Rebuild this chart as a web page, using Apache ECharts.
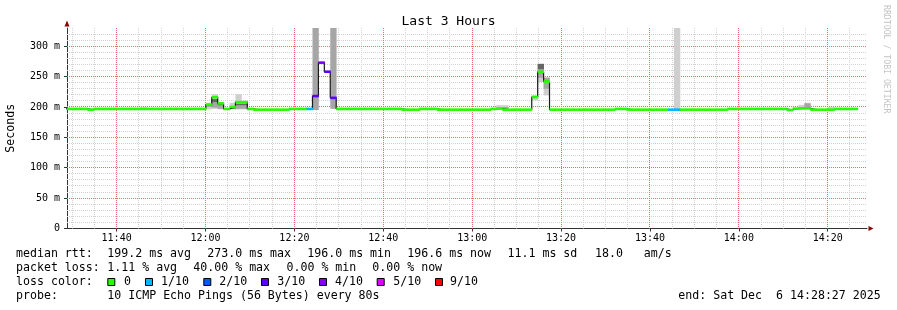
<!DOCTYPE html>
<html>
<head>
<meta charset="utf-8">
<script src="https://cdn.jsdelivr.net/npm/echarts@6/dist/echarts.min.js"></script>
<style>
html,body{margin:0;padding:0;background:#fff;}
#chart{width:897px;height:310px;}
</style>
</head>
<body>
<div id="chart"></div>
<script>
// ---------------- DATA ----------------
const axisStart = '11:28:50';
const axisEnd = '14:28:50';
const firstStepEnd = '11:29:24';
const stepSeconds = 80;

const xTickLabels = ['11:40','12:00','12:20','12:40','13:00','13:20','13:40','14:00','14:20'];

// median rtt per 80 s step (ms)
const median = [
  196.8,196.8,196.8,196.8,195.6,196.8,196.8,196.8,196.8,196.8,
  196.8,196.8,196.8,196.8,196.8,196.8,196.8,196.8,196.8,196.8,
  196.8,196.8,196.8,196.8,204,216,206,196.8,200,208,
  208,196.8,195.6,195.6,195.6,195.6,195.6,195.6,196.8,196.8,
  196.8,196.8,218,273,258,215,196.8,196.8,196.8,196.8,
  196.8,196.8,196.8,196.8,196.8,196.8,196.8,195.6,195.6,195.6,
  196.8,196.8,196.8,195.6,195.6,195.6,195.6,195.6,195.6,195.6,
  195.6,195.6,196.8,197.5,195.6,195.6,195.6,195.6,195.6,216.5,
  258,242,195.6,195.6,195.6,195.6,195.6,195.6,195.6,195.6,
  195.6,195.6,195.6,196.8,196.8,195.6,195.6,195.6,195.6,195.6,
  195.6,195.6,195.6,195.6,195.6,195.6,195.6,195.6,195.6,195.6,
  195.6,195.6,196.8,196.8,196.8,196.8,196.8,196.8,196.8,196.8,
  196.8,196.8,195.0,197.3,197.8,197.8,195.6,195.6,195.6,195.6,
  196.8,196.8,196.8,196.8
];

// lost pings (out of 10) per step
const loss = [
  0,0,0,0,0,0,0,0,0,0,
  0,0,0,0,0,0,0,0,0,0,
  0,0,0,0,0,0,0,0,0,0,
  0,0,0,0,0,0,0,0,0,0,
  0,1,3,4,3,3,0,0,0,0,
  0,0,0,0,0,0,0,0,0,0,
  0,0,0,0,0,0,0,0,0,0,
  0,0,0,0,0,0,0,0,0,0,
  0,0,0,0,0,0,0,0,0,0,
  0,0,0,0,0,0,0,0,0,0,
  0,0,1,1,0,0,0,0,0,0,
  0,0,0,0,0,0,0,0,0,0,
  0,0,0,0,0,0,0,0,0,0,
  0,0,0,0
];

// smoke bands: [step, low ms, high ms]
const smokeOuter = [
  [13,196,199.5],[24,196,207],[25,197,221],[26,196,208],[28,196,207],[29,196,221],[30,196,210],
  [73,197,203],[74,197,203],[79,211,219],[80,241,271],[81,219,249],[103,196,345],
  [124,196,203.5],[125,196,207],[129,196,200]
];
const smokeMiddle = [
  [25,199,211],[26,197,204],[29,197,206],[30,197,206],[42,195,345],[45,197,345],
  [74,196,200],[80,248,262],[81,230,248],[125,198,206]
];
const smokeInner = [
  [24,201,203],[25,208,213],[26,203,205],[28,197,199],[29,203,205],[30,203,205],[80,262,271]
];

const lossLevels = [0,1,2,3,4,5,9];

// ---------------- HELPERS ----------------
const MONO = '"DejaVu Sans Mono", monospace';
const lossColorMap = {0:'#26ff00',1:'#00b8ff',2:'#0059ff',3:'#5e00ff',4:'#7e00ff',5:'#dd00ff',9:'#ff0000'};
function lossColor(n){
  if (n >= 6) return lossColorMap[9];
  return lossColorMap[n];
}
const toMin = s => { const p = s.split(':').map(Number); return p[0]*60 + p[1] + (p[2]||0)/60; };
const X_MIN = toMin(axisStart), X_MAX = toMin(axisEnd);
const stepMin = stepSeconds/60;
const firstEnd = toMin(firstStepEnd);
const stepEnd = j => firstEnd + j*stepMin;
const stepStart = j => stepEnd(j) - stepMin;
const xTickValues = xTickLabels.map(toMin);

const GRID = {left:67, top:28, width:800, height:200.5};
const MINOR_COLOR = '#d2d2d2', MAJOR_COLOR = '#f46a6a';

function clipTo(shape, cs){
  return echarts.graphic.clipRectByRect(shape, {x:cs.x, y:cs.y, width:cs.width, height:cs.height});
}

function smokeSeries(records, color, z){
  return {
    type:'custom', silent:true, animation:false, z:z,
    data: records.map(r => [stepStart(r[0]), stepEnd(r[0]), r[1], r[2]]),
    encode:{x:[0,1], y:[2,3]},
    renderItem(params, api){
      const p1 = api.coord([api.value(0), api.value(3)]);
      const p2 = api.coord([api.value(1), api.value(2)]);
      const shape = clipTo({x:p1[0], y:p1[1], width:p2[0]-p1[0]+0.4, height:p2[1]-p1[1]}, params.coordSys);
      return shape ? {type:'rect', shape, style:{fill:color}} : null;
    }
  };
}

// grid lines (every 5 min, every 10 ms)
const vMinor = [], vMajor = [];
for (let m = Math.ceil(X_MIN/5)*5; m < X_MAX; m += 5) {
  if (Math.round(m) % 20 === 0) vMajor.push([m, 0]); else vMinor.push([m, 0]);
}
const hMinor = [], hMajor = [];
for (let v = 10; v <= 320; v += 10) {
  if (v % 50 === 0) hMajor.push([X_MIN, v]); else hMinor.push([X_MIN, v]);
}

function vGridSeries(data, color, z){
  return {
    type:'custom', silent:true, animation:false, z:z,
    data: data, encode:{x:0, y:1},
    renderItem(params, api){
      const cs = params.coordSys;
      const x = Math.floor(api.coord([api.value(0), 0])[0]) + 0.5;
      return {type:'line', shape:{x1:x, y1:cs.y, x2:x, y2:cs.y+cs.height},
        style:{stroke: color, lineWidth:1, lineDash:[1,1]}};
    }
  };
}
function hGridSeries(data, color, z){
  return {
    type:'custom', silent:true, animation:false, z:z,
    data: data, encode:{x:0, y:1},
    renderItem(params, api){
      const cs = params.coordSys;
      const y = Math.floor(api.coord([X_MIN, api.value(1)])[1]) + 0.5;
      return {type:'line', shape:{x1:cs.x, y1:y, x2:cs.x+cs.width, y2:y},
        style:{stroke: color, lineWidth:1, lineDash:[1,1]}};
    }
  };
}

const medianBand = {
  type:'custom', silent:true, animation:false, z:6,
  data: median.map((v,j) => [stepStart(j), stepEnd(j), v, loss[j]]),
  encode:{x:[0,1], y:2},
  renderItem(params, api){
    const a = api.coord([api.value(0), api.value(2)]);
    const b = api.coord([api.value(1), api.value(2)]);
    const h = 2.6;
    const shape = clipTo({x:a[0], y:a[1]-h/2, width:b[0]-a[0]+0.5, height:h}, params.coordSys);
    return shape ? {type:'rect', shape, style:{fill: lossColor(api.value(3))}} : null;
  }
};

const medianLineData = median.map((v,j) => [stepStart(j), v]);
medianLineData.push([stepEnd(median.length-1), median[median.length-1]]);
const medianLine = {
  type:'line', step:'end', data: medianLineData, symbol:'none', silent:true, animation:false, z:5,
  lineStyle:{color:'#1a1a1a', width:1.2}, clip:true
};

// ---------------- TEXT / LEGEND ----------------
const textEls = [];
function txt(s, x, y, size, color, extra){
  textEls.push(Object.assign({type:'text', x, y, silent:true,
    style:{text:s, font: size + 'px ' + MONO, fill: color || '#000',
      textAlign:'left', textVerticalAlign:'middle', align:'left', verticalAlign:'middle'}}, extra||{}));
}
const L1 = 254, L2 = 268, L3 = 282, L4 = 296, FS = 11.6;
txt('median rtt:', 16, L1, FS);
txt('199.2 ms avg', 107.3, L1, FS);
txt('273.0 ms max', 207.3, L1, FS);
txt('196.0 ms min', 307.3, L1, FS);
txt('196.6 ms now', 407.3, L1, FS);
txt('11.1 ms sd', 507.5, L1, FS);
txt('18.0   am/s', 595, L1, FS);
txt('packet loss:', 16, L2, FS);
txt('1.11 % avg', 107.3, L2, FS);
txt('40.00 % max', 193.3, L2, FS);
txt('0.00 % min', 286.5, L2, FS);
txt('0.00 % now', 372.3, L2, FS);
txt('loss color:', 16, L3, FS);
const sqX = [107.3,145,203.3,261,319,376.7,435];
const lbX = [124,161,219.3,277.3,335,393.3,450];
lossLevels.forEach((lv,i) => {
  textEls.push({type:'rect', silent:true, shape:{x:sqX[i]+0.5, y:L3-3.5, width:7, height:7},
    style:{fill: lossColor(lv), stroke:'#000', lineWidth:1}});
  txt(lv === 0 ? '0' : lv + '/10', lbX[i], L3, FS);
});
txt('probe:', 16, L4, FS);
txt('10 ICMP Echo Pings (56 Bytes) every 80s', 107.3, L4, FS);
txt('end: Sat Dec  6 14:28:27 2025', 678.3, L4, FS);
txt('RRDTOOL / TOBI OETIKER', 886, 5, 8.2, '#c4c4c4', {rotation:-Math.PI/2});

// axis arrows
textEls.push({type:'polygon', silent:true,
  shape:{points:[[GRID.left-2.5, GRID.top-1.5],[GRID.left+2.5, GRID.top-1.5],[GRID.left, GRID.top-7.5]]},
  style:{fill:'#8b0000'}});
const xAxisY = GRID.top + GRID.height;
textEls.push({type:'polygon', silent:true,
  shape:{points:[[GRID.left+GRID.width+1.5, xAxisY-2.5],[GRID.left+GRID.width+1.5, xAxisY+2.5],[GRID.left+GRID.width+6.5, xAxisY]]},
  style:{fill:'#8b0000'}});

// ---------------- CHART ----------------
const chart = echarts.init(document.getElementById('chart'), null, {renderer:'canvas'});
chart.setOption({
  animation:false,
  backgroundColor:'#ffffff',
  title:{text:'Last 3 Hours', left:'center', top:10,
    textStyle:{fontFamily:MONO, fontSize:13, fontWeight:'normal', color:'#000'}},
  grid:{left:GRID.left, top:GRID.top, width:GRID.width, height:GRID.height, containLabel:false, outerBoundsMode:'none'},
  xAxis:{
    type:'value', min:X_MIN, max:X_MAX,
    splitLine:{show:false},
    axisLine:{show:true, lineStyle:{color:'#333', width:1}},
    axisTick:{show:true, length:3, customValues:xTickValues, lineStyle:{color:'#333'}},
    axisLabel:{customValues:xTickValues, margin:5, fontFamily:MONO, fontSize:10, color:'#000',
      formatter:(v) => { const i = xTickValues.findIndex(t => Math.abs(t-v) < 1e-6); return i >= 0 ? xTickLabels[i] : ''; }}
  },
  yAxis:{
    type:'value', min:0, max:330, interval:50,
    name:'Seconds', nameLocation:'middle', nameGap:50, nameRotate:90,
    nameTextStyle:{fontFamily:MONO, fontSize:11.6, color:'#000'},
    splitLine:{show:false},
    axisLine:{show:true, lineStyle:{color:'#333', width:1}},
    axisTick:{show:true, length:3, lineStyle:{color:'#333'}},
    axisLabel:{margin:7, fontFamily:MONO, fontSize:10, color:'#000', showMaxLabel:false,
      formatter:(v) => v === 0 ? '0' : (v % 50 === 0 ? v + ' m' : '')}
  },
  series:[
    vGridSeries(vMinor, MINOR_COLOR, 1), hGridSeries(hMinor, MINOR_COLOR, 1),
    vGridSeries(vMajor, MAJOR_COLOR, 1.5), hGridSeries(hMajor, MAJOR_COLOR, 1.5),
    smokeSeries(smokeOuter, '#cfcfcf', 2),
    smokeSeries(smokeMiddle, '#a6a6a6', 3),
    smokeSeries(smokeInner, '#666666', 4),
    medianLine,
    medianBand
  ],
  graphic: textEls
});
</script>
</body>
</html>
